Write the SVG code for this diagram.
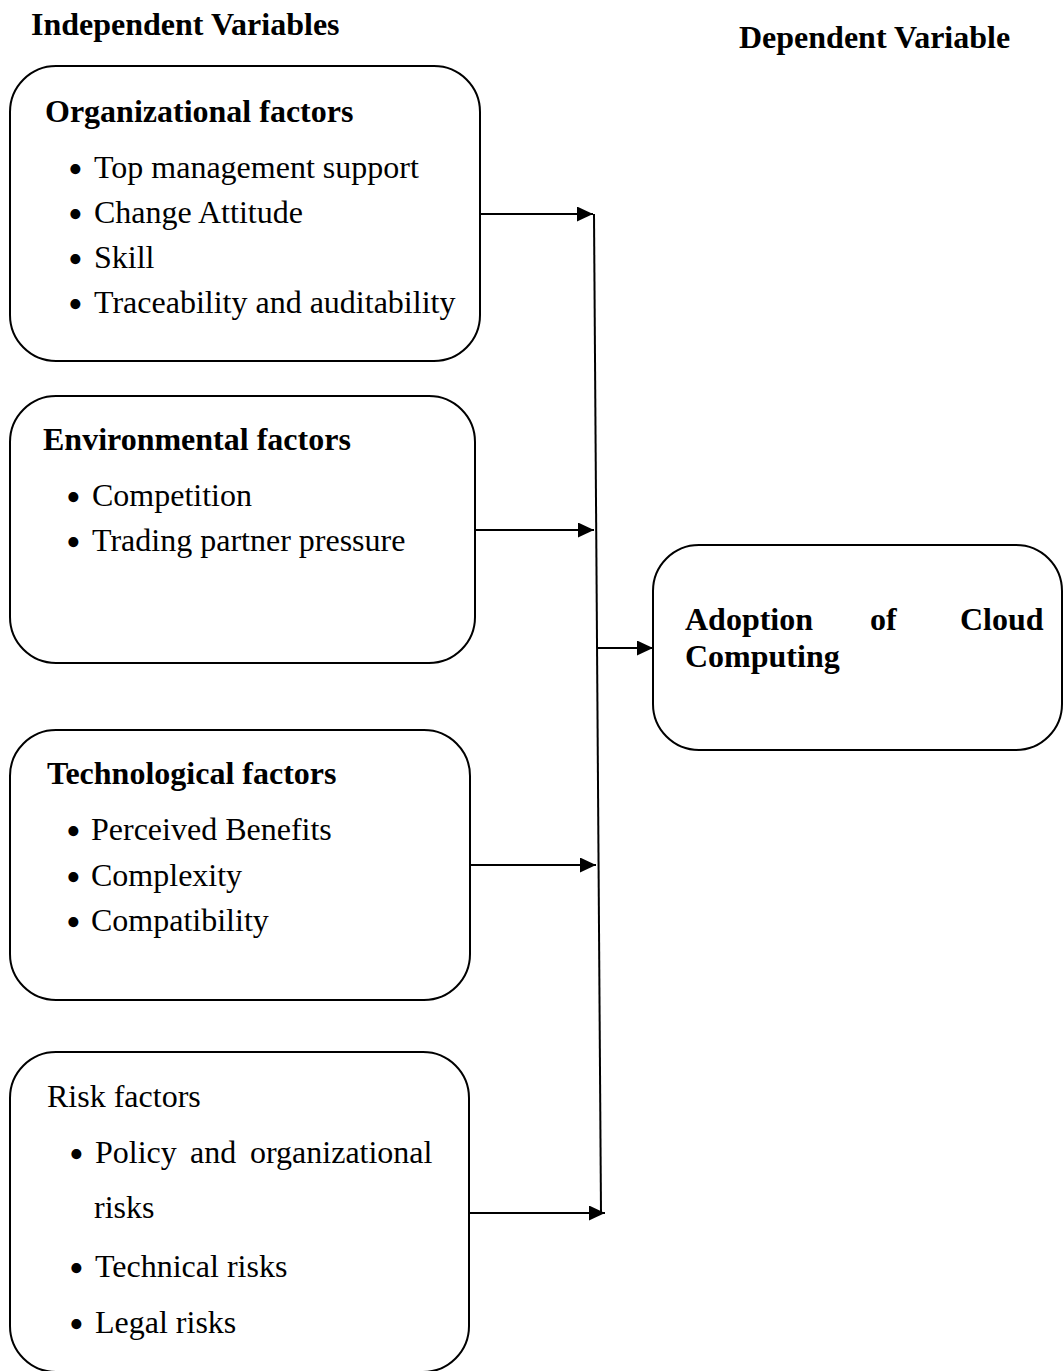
<svg xmlns="http://www.w3.org/2000/svg" width="1063" height="1371" viewBox="0 0 1063 1371">
<style>
text{font-family:"Liberation Serif","Times New Roman",serif;font-size:32px;fill:#000}
.b{font-weight:bold}
.bu{font-size:42px}
.box{fill:#fff;stroke:#000;stroke-width:2}
.con{stroke:#000;stroke-width:2;fill:none}
</style>
<defs>
<marker id="ah" markerUnits="userSpaceOnUse" markerWidth="17" markerHeight="16" refX="16" refY="7.5" orient="auto">
<path d="M0,0 L16,7.5 L0,15 Z" fill="#000"/>
</marker>
</defs>
<rect width="1063" height="1371" fill="#fff"/>
<g id="headers">
<text class="b" x="31" y="35">Independent Variables</text>
<text class="b" x="739" y="48">Dependent Variable</text>
</g>
<g id="org">
<rect class="box" x="10" y="66" width="470" height="295" rx="46"/>
<text class="b" x="45" y="122">Organizational factors</text>
<text class="bu" x="68" y="183">•</text><text x="94" y="178">Top management support</text>
<text class="bu" x="68" y="228">•</text><text x="94" y="223">Change Attitude</text>
<text class="bu" x="68" y="273">•</text><text x="94" y="268">Skill</text>
<text class="bu" x="68" y="318">•</text><text x="94" y="313">Traceability and auditability</text>
</g>
<g id="env">
<rect class="box" x="10" y="396" width="465" height="267" rx="46"/>
<text class="b" x="43" y="450">Environmental factors</text>
<text class="bu" x="66" y="511">•</text><text x="92" y="506">Competition</text>
<text class="bu" x="66" y="556">•</text><text x="92" y="551">Trading partner pressure</text>
</g>
<g id="tech">
<rect class="box" x="10" y="730" width="460" height="270" rx="46"/>
<text class="b" x="47" y="784">Technological factors</text>
<text class="bu" x="66" y="845">•</text><text x="91" y="840">Perceived Benefits</text>
<text class="bu" x="66" y="891">•</text><text x="91" y="886">Complexity</text>
<text class="bu" x="66" y="936">•</text><text x="91" y="931">Compatibility</text>
</g>
<g id="risk">
<rect class="box" x="10" y="1052" width="459" height="320" rx="46"/>
<text x="47" y="1107">Risk factors</text>
<text class="bu" x="69" y="1168">•</text><text y="1163"><tspan x="95">Policy</tspan><tspan x="190">and</tspan><tspan x="250">organizational</tspan></text>
<text x="94" y="1218">risks</text>
<text class="bu" x="69" y="1282">•</text><text x="95" y="1277">Technical risks</text>
<text class="bu" x="69" y="1338">•</text><text x="95" y="1333">Legal risks</text>
</g>
<g id="adoption">
<rect class="box" x="653" y="545" width="409" height="205" rx="46"/>
<text class="b" y="630"><tspan x="685">Adoption</tspan><tspan x="870">of</tspan><tspan x="960">Cloud</tspan></text>
<text class="b" x="685" y="667">Computing</text>
</g>
<g id="connectors">
<line class="con" x1="594" y1="214" x2="601" y2="1213"/>
<line class="con" x1="480" y1="214" x2="593" y2="214" marker-end="url(#ah)"/>
<line class="con" x1="475" y1="530" x2="594" y2="530" marker-end="url(#ah)"/>
<line class="con" x1="597" y1="648" x2="653" y2="648" marker-end="url(#ah)"/>
<line class="con" x1="470" y1="865" x2="596" y2="865" marker-end="url(#ah)"/>
<line class="con" x1="469" y1="1213" x2="605" y2="1213" marker-end="url(#ah)"/>
</g>
</svg>
